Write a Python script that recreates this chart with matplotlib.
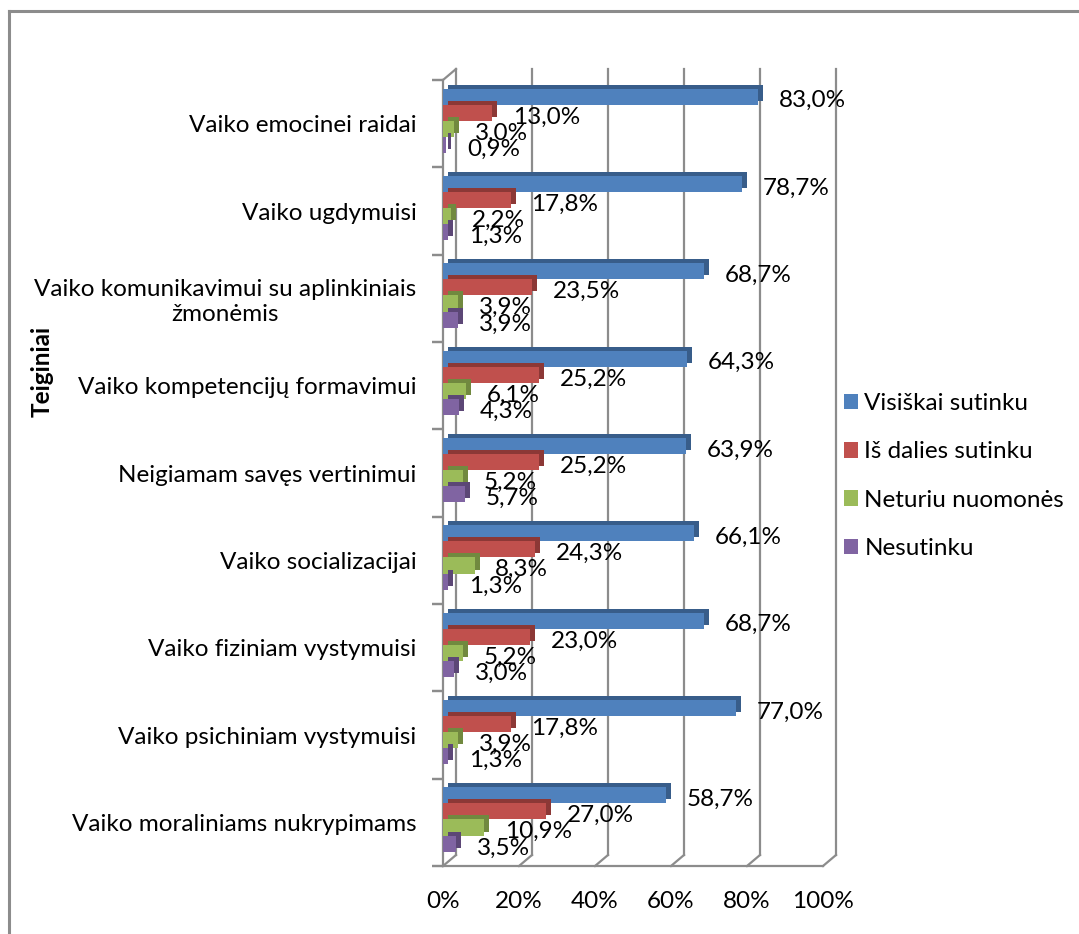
import matplotlib
matplotlib.use('Agg')
import matplotlib.pyplot as plt
from matplotlib.transforms import offset_copy
from matplotlib.patches import Patch
from matplotlib.lines import Line2D

plt.rcParams['font.family'] = ['Lato', 'DejaVu Sans']

# duomenys
categories = ['Vaiko emocinei raidai', 'Vaiko ugdymuisi',
              'Vaiko komunikavimui su aplinkiniais\nžmonėmis',
              'Vaiko kompetencijų formavimui', 'Neigiamam savęs vertinimui',
              'Vaiko socializacijai', 'Vaiko fiziniam vystymuisi',
              'Vaiko psichiniam vystymuisi', 'Vaiko moraliniams nukrypimams']
series = ['Visiškai sutinku', 'Iš dalies sutinku', 'Neturiu nuomonės', 'Nesutinku']
visiskai = [83.0, 78.7, 68.7, 64.3, 63.9, 66.1, 68.7, 77.0, 58.7]
is_dalies = [13.0, 17.8, 23.5, 25.2, 25.2, 24.3, 23.0, 17.8, 27.0]
neturiu = [3.0, 2.2, 3.9, 6.1, 5.2, 8.3, 5.2, 3.9, 10.9]
nesutinku = [0.9, 1.3, 3.9, 4.3, 5.7, 1.3, 3.0, 1.3, 3.5]
xticks = [0, 20, 40, 60, 80, 100]

colors = ['#4F81BD', '#C0504D', '#9BBB59', '#8064A2']
dark = ['#385D8A', '#8C3836', '#71893F', '#5C4776']
grid_c = '#8C8C8C'
fs = 17.5

W, H = 1079, 934
fig = plt.figure(figsize=(W / 100, H / 100), dpi=100)
ax = fig.add_axes([443 / W, (H - 866) / H, 380 / W, 786 / H])
ax.set_xlim(0, 100)
ax.set_ylim(len(categories) - 0.5, -0.5)

# remelis
fig.add_artist(Line2D([9 / W, 1], [1 - 11 / H] * 2, color='#8C8C8C', lw=2.2))
fig.add_artist(Line2D([9 / W] * 2, [0, 1 - 11 / H], color='#8C8C8C', lw=2.2))

back = offset_copy(ax.transData, fig=fig, x=13, y=11, units='dots')
depth = offset_copy(ax.transData, fig=fig, x=5, y=4, units='dots')

top, bot = -0.5, len(categories) - 0.5
# galine siena + grindys
for v in xticks:
    ax.plot([v, v], [bot, top], color=grid_c, lw=1.6, transform=back,
            clip_on=False, zorder=0.5)
    x0, y0 = ax.transData.transform((v, bot))
    x1, y1 = back.transform((v, bot))
    fig.add_artist(Line2D([x0 / W, x1 / W], [y0 / H, y1 / H], color=grid_c, lw=1.6))
x0, y0 = ax.transData.transform((0, top))
x1, y1 = back.transform((0, top))
fig.add_artist(Line2D([x0 / W, x1 / W], [y0 / H, y1 / H], color=grid_c, lw=1.6))
ax.plot([0, 100], [bot, bot], color=grid_c, lw=1.6, clip_on=False, zorder=0.6)
ax.plot([0, 0], [bot, top], color=grid_c, lw=1.6, clip_on=False, zorder=0.6)
for b in range(len(categories) + 1):
    ax.plot([0, 0], [b - 0.5, b - 0.5], color=grid_c, lw=1.6, clip_on=False,
            marker=0, markersize=8, markeredgewidth=1.6, zorder=0.6)

h = 0.185
offsets = [-0.31, -0.125, 0.06, 0.245]
data = [visiskai, is_dalies, neturiu, nesutinku]
for k, vals in enumerate(data):
    ys = [i + offsets[k] for i in range(len(categories))]
    ax.barh(ys, vals, height=h, color=dark[k], transform=depth, zorder=2 + k * 0.1)
    ax.barh(ys, vals, height=h, color=colors[k], zorder=2.05 + k * 0.1)
    for y, v in zip(ys, vals):
        ax.annotate(f'{v:.1f}%'.replace('.', ','), (v, y), xytext=(15, -3),
                    textcoords='offset points', ha='left', va='center',
                    fontsize=fs, zorder=6)

ax.set_yticks(range(len(categories)))
ax.set_yticklabels(categories, fontsize=fs, multialignment='center')
ax.tick_params(axis='y', length=0, pad=19)
ax.set_xticks(xticks)
ax.set_xticklabels([f'{t}%' for t in xticks], fontsize=fs)
ax.tick_params(axis='x', length=0, pad=18)
for s in ax.spines.values():
    s.set_visible(False)
ax.set_facecolor('none')

fig.text(42 / W, 1 - 371 / H, 'Teiginiai', rotation=90, fontsize=fs,
         fontweight='bold', ha='center', va='center')

handles = [Patch(facecolor=c) for c in colors]
fig.legend(handles, series, loc='center left', bbox_to_anchor=(834 / W, 1 - 476 / H),
           frameon=False, fontsize=fs, handlelength=0.6, handleheight=0.6,
           handletextpad=0.25, labelspacing=1.12, borderaxespad=0)

fig.savefig('out.png', dpi=100)
